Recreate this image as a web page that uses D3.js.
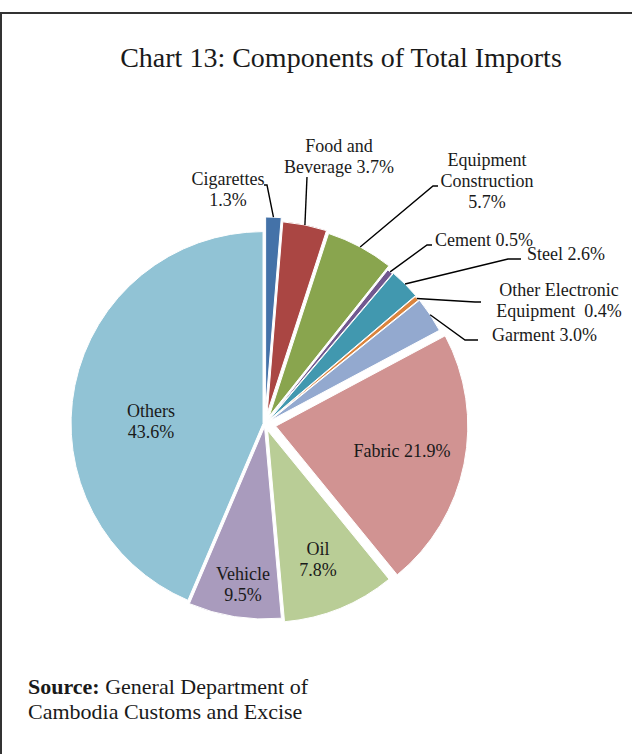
<!DOCTYPE html>
<html>
<head>
<meta charset="utf-8">
<script src="https://cdn.jsdelivr.net/npm/d3@7"></script>
<style>
  html, body { margin: 0; padding: 0; background: #fff; }
  svg { display: block; }
  text { font-family: "Liberation Serif", "Times New Roman", serif; fill: #1a1a1a; }
</style>
</head>
<body>
<script>
// ---- data (slice sizes as drawn, clockwise from 12 o'clock) ----
const categories = ["Cigarettes", "Food and Beverage", "Equipment Construction", "Cement", "Steel",
  "Other Electronic Equipment", "Garment", "Fabric", "Oil", "Vehicle", "Others"];
const shares = [1.3, 3.7, 5.7, 0.5, 2.6, 0.4, 3.0, 21.9, 9.5, 7.8, 43.6];
const labelLines = [
  ["Cigarettes", "1.3%"],
  ["Food and", "Beverage 3.7%"],
  ["Equipment", "Construction", "5.7%"],
  ["Cement 0.5%"],
  ["Steel 2.6%"],
  ["Other Electronic", "Equipment  0.4%"],
  ["Garment 3.0%"],
  ["Fabric 21.9%"],
  ["Oil", "7.8%"],
  ["Vehicle", "9.5%"],
  ["Others", "43.6%"]
];
const colors = ["#4472A8", "#AA4643", "#89A54E", "#71588F", "#4198AF", "#DB843D",
  "#93A9CF", "#D19392", "#B9CD96", "#A99BBD", "#91C3D5"];
const explode = [15, 11, 9, 5, 6, 5, 6, 11, 7, 3, 2];

// ---- layout ----
const W = 632, H = 754;
const cx = 265, cy = 424, R = 192;
// label layout: [x, first baseline, anchor], optional leader path (elbow, end)
const labelPos = [
  [228, 185, "middle"],
  [339, 152, "middle"],
  [487, 166, "middle"],
  [435, 246, "start"],
  [527, 260, "start"],
  [559, 296, "middle"],
  [492, 341, "start"],
  [402, 457, "middle"],
  [318, 555, "middle"],
  [243, 580, "middle"],
  [151, 417, "middle"]
];
const leaders = [
  [[267, 185], [264, 185]],
  [[307, 177], [307, 177]],
  [[433, 186], [438, 186]],
  [[427, 245], [432, 245]],
  [[508, 259], [521, 259]],
  [[475, 302], [481, 302]],
  [[465, 340], [478, 340]],
  null, null, null, null
];

const svg = d3.select("body").append("svg").attr("width", W).attr("height", H);

// frame
svg.append("line").attr("x1", 0).attr("x2", W).attr("y1", 13).attr("y2", 13)
  .attr("stroke", "#333").attr("stroke-width", 2);
svg.append("line").attr("x1", 1).attr("x2", 1).attr("y1", 12).attr("y2", H)
  .attr("stroke", "#333").attr("stroke-width", 2);

// title
svg.append("text").attr("x", 341).attr("y", 67).attr("text-anchor", "middle")
  .style("font-size", "28px").text("Chart 13: Components of Total Imports");

const pie = d3.pie().sort(null).value(d => d).startAngle(0).endAngle(2 * Math.PI);
const arcs = pie(shares);
const arc = d3.arc().innerRadius(0).outerRadius(R);

function offsetOf(a, i) {
  const m = (a.startAngle + a.endAngle) / 2;
  return [explode[i] * Math.sin(m), -explode[i] * Math.cos(m)];
}

const g = svg.append("g").attr("transform", `translate(${cx},${cy})`);
g.selectAll("path").data(arcs).join("path")
  .attr("d", arc)
  .attr("transform", (a, i) => { const o = offsetOf(a, i); return `translate(${o[0]},${o[1]})`; })
  .attr("fill", (a, i) => colors[i])
  .attr("stroke", "#fff").attr("stroke-width", 1);

// leader lines from the slice's outer mid-point
arcs.forEach((a, i) => {
  if (!leaders[i]) return;
  const m = (a.startAngle + a.endAngle) / 2;
  const o = offsetOf(a, i);
  const sx = cx + o[0] + R * Math.sin(m);
  const sy = cy + o[1] - R * Math.cos(m);
  const pts = [[sx, sy], leaders[i][0], leaders[i][1]];
  svg.append("path").attr("d", d3.line()(pts))
    .attr("fill", "none").attr("stroke", "#000").attr("stroke-width", 1.4);
});

// labels
labelLines.forEach((lines, i) => {
  const [x, y, anchor] = labelPos[i];
  const t = svg.append("text").attr("x", x).attr("y", y).attr("text-anchor", anchor)
    .style("font-size", "18px");
  lines.forEach((ln, k) => {
    t.append("tspan").attr("x", x).attr("y", y + k * 21).attr("xml:space", "preserve")
      .style("white-space", "pre").text(ln);
  });
});

// source
const src = svg.append("text").attr("x", 28).attr("y", 694).style("font-size", "22px");
src.append("tspan").style("font-weight", "bold").text("Source:");
src.append("tspan").text(" General Department of");
svg.append("text").attr("x", 28).attr("y", 719).style("font-size", "22px")
  .text("Cambodia Customs and Excise");
</script>
</body>
</html>
